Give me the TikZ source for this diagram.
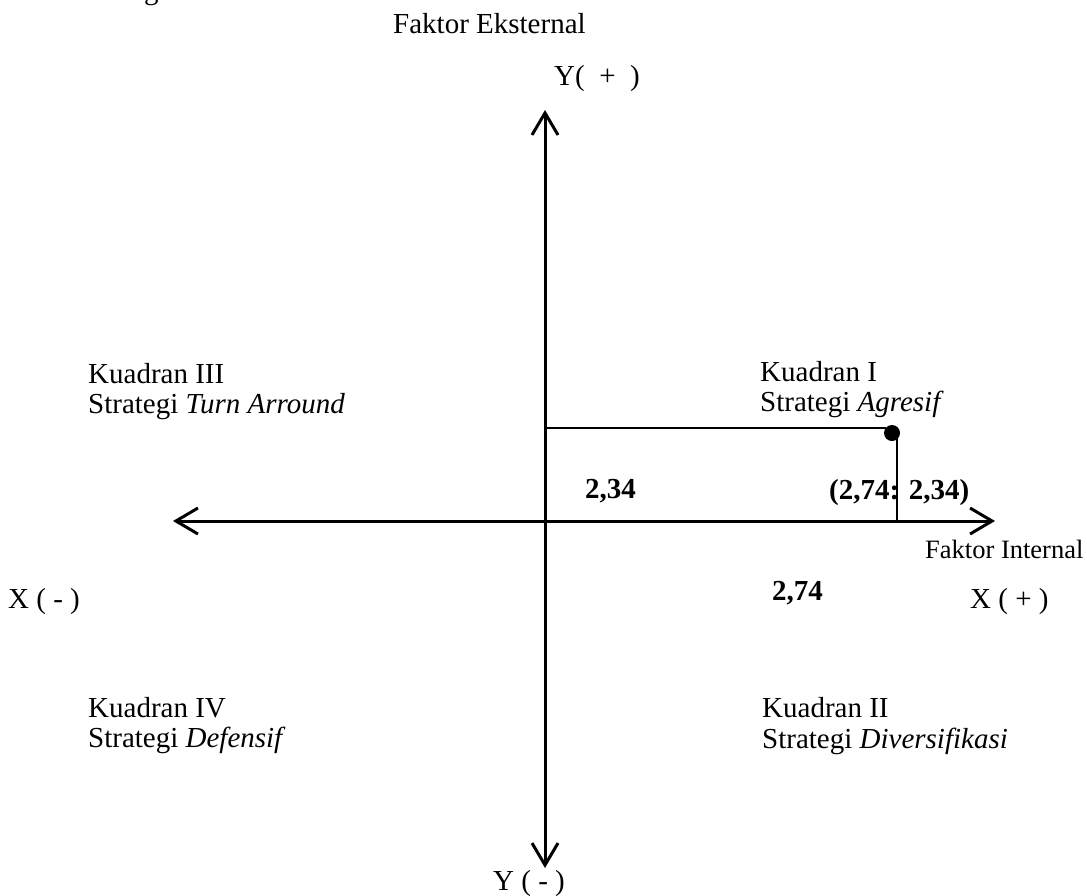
\documentclass[tikz,border=0pt]{standalone}
\usepackage{fontspec}
\setmainfont{Liberation Serif}
\usetikzlibrary{arrows.meta}
\begin{document}
\begin{tikzpicture}[x=1pt,y=-1pt,
  lbl/.style={anchor=base west,inner sep=0pt,font=\fontsize{29}{30}\selectfont},
  small/.style={anchor=base west,inner sep=0pt,font=\fontsize{26.5}{28}\selectfont},
  num/.style={anchor=base west,inner sep=0pt,font=\fontsize{29}{30}\selectfont\bfseries},
  axis/.style={line width=3pt,{Straight Barb[length=22pt,width=26pt,line width=3pt]}-{Straight Barb[length=22pt,width=26pt,line width=3pt]}},
  guide/.style={line width=2pt},
  point/.style={circle,fill=black,inner sep=0pt,minimum size=16pt}
]
\useasboundingbox (0,0) rectangle (1087,895);
% cropped fragment of a caption above
\node[lbl] (frag) at (144,-1) {g};
% titles
\node[lbl] (fe) at (393,33) {Faktor Eksternal};
\node[lbl] (yp) at (554,85) {Y(\ \ +\ \ )};
\node[lbl] (ym) at (493,890) {Y ( - )};
\node[lbl] (xm) at (8,608) {X ( - )};
\node[lbl] (xp) at (970,608) {X ( + )};
\node[small] (fi) at (925,558) {Faktor Internal};
% quadrants
\node[lbl] (k3a) at (88,383) {Kuadran III};
\node[lbl] (k3b) at (88,413) {Strategi \textit{Turn Arround}};
\node[lbl] (k1a) at (760,381) {Kuadran I};
\node[lbl] (k1b) at (760,411) {Strategi \textit{Agresif}};
\node[lbl] (k4a) at (88,717) {Kuadran IV};
\node[lbl] (k4b) at (88,747) {Strategi \textit{Defensif}};
\node[lbl] (k2a) at (762,717) {Kuadran II};
\node[lbl] (k2b) at (762,748) {Strategi \textit{Diversifikasi}};
% numbers
\node[num] (n234) at (585,498) {2,34};
\node[num] (npt) at (829,499) {(2,74: 2,34)};
\node[num] (n274) at (772,600) {2,74};
% axes
\coordinate (ytop) at (545,110);
\coordinate (ybot) at (545,868);
\coordinate (xleft) at (173,521);
\coordinate (xright) at (995,521);
\draw[axis] (ybot) -- (ytop);
\draw[axis] (xleft) -- (xright);
% point and guides
\node[point] (dot) at (892,433) {};
\coordinate (h0) at (545,428);
\coordinate (h1) at (886,428);
\coordinate (v0) at (897,436);
\coordinate (v1) at (897,521);
\draw[guide] (h0) -- (h1);
\draw[guide] (v0) -- (v1);
\end{tikzpicture}
\end{document}
